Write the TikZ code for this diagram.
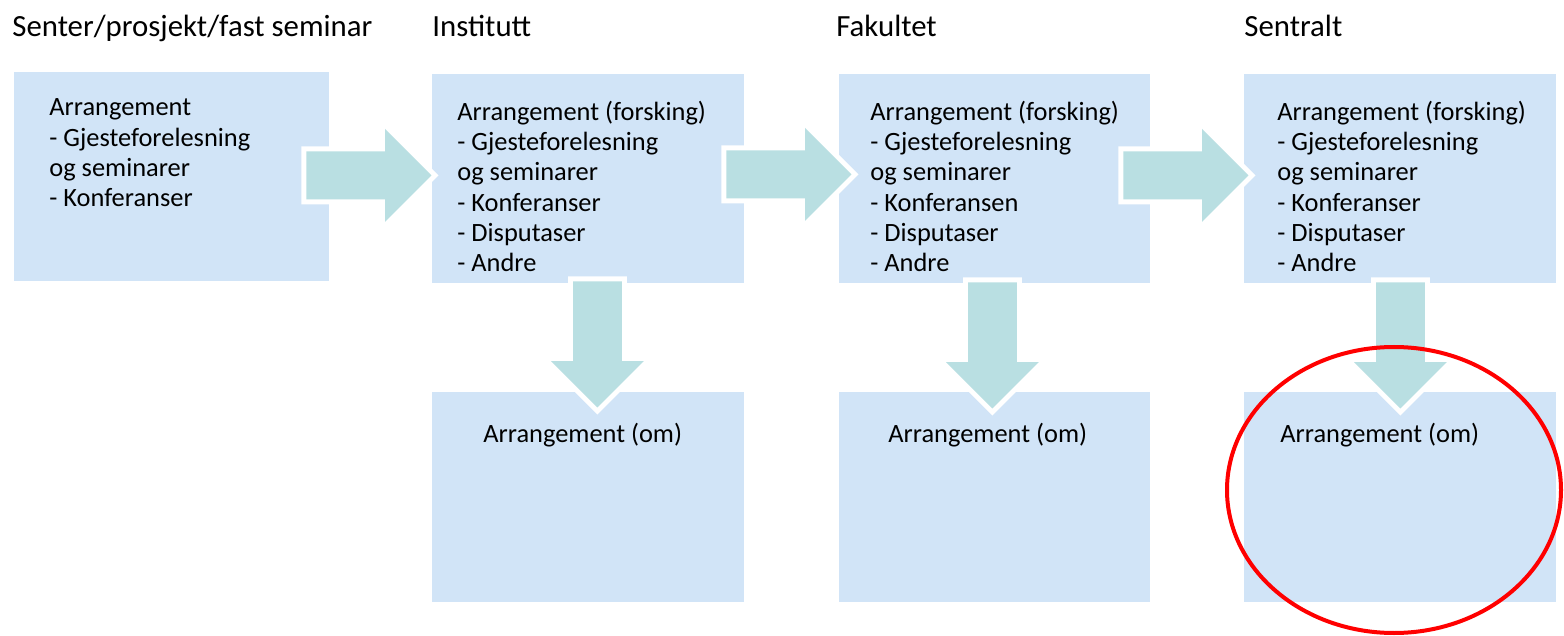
\documentclass[tikz,border=0pt]{standalone}
\usepackage{fontspec}
\setmainfont{Carlito}
\usetikzlibrary{shapes.arrows,shapes.geometric,calc}
\definecolor{boxblue}{RGB}{209,228,247}
\definecolor{arrowteal}{RGB}{185,223,226}

\begin{document}
\begin{tikzpicture}[x=0.5pt, y=-0.5pt]
	\tikzstyle{every node}=[inner sep=0pt, align=left]
	\tikzstyle{heading}=[anchor=base west, font=\fontsize{15.4}{18}\selectfont]
	\tikzstyle{box}=[fill=boxblue, anchor=north west, minimum width=156pt, minimum height=104.5pt]
	\tikzstyle{boxtext}=[anchor=base west, font=\fontsize{13.2}{15.2}\selectfont]
	\tikzstyle{rarrow}=[single arrow, fill=arrowteal, preaction={draw=white, line width=5pt},
		inner sep=11.75pt, minimum height=62.5pt, single arrow head extend=11.25pt, anchor=tip]
	\tikzstyle{darrow}=[rarrow, inner sep=12pt, minimum height=63pt, single arrow head extend=11pt, shape border rotate=270]
	\useasboundingbox (0,0) rectangle (1564,636);
	% headings
	\node[heading] (hs) at (12,37) {Senter/prosjekt/fast seminar};
	\node[heading] (hi) at (432,37) {Institutt};
	\node[heading] (hf) at (836,37) {Fakultet};
	\node[heading] (hc) at (1244,37) {Sentralt};
	% boxes
	\node[box, minimum height=104.5pt, minimum width=157.5pt] (s) at (14,72) {};
	\node[box] (i) at (432,74) {};
	\node[box, minimum width=155.5pt] (f) at (839,74) {};
	\node[box] (c) at (1244,74) {};
	\node[box, minimum height=105pt] (io) at (432,392) {};
	\node[box, minimum height=105pt, minimum width=155.5pt] (fo) at (839,392) {};
	\node[box, minimum height=105pt] (co) at (1244,392) {};
	% arrows
	\node[rarrow] (si) at ($(i.west)+(0,-3.5)$) {};
	\node[rarrow] (if) at ($(f.west)+(13,-4.5)$) {};
	\node[rarrow] (fc) at ($(c.west)+(5,-3.5)$) {};
	\node[darrow] (iio) at ($(io.north)+(9,16)$) {};
	\node[darrow] (ffo) at ($(fo.north)+(-2.5,17)$) {};
	\node[darrow] (cco) at ($(co.north)+(0,17)$) {};
	% texts (anchored at the last line)
	\node[boxtext] (st) at (49,207) {Arrangement\\- Gjesteforelesning\\og seminarer\\- Konferanser};
	\node[boxtext] (it) at (457,272) {Arrangement (forsking)\\- Gjesteforelesning\\og seminarer\\- Konferanser\\- Disputaser\\- Andre};
	\node[boxtext] (ft) at (870,272) {Arrangement (forsking)\\- Gjesteforelesning\\og seminarer\\- Konferansen\\- Disputaser\\- Andre};
	\node[boxtext] (ct) at (1277,272) {Arrangement (forsking)\\- Gjesteforelesning\\og seminarer\\- Konferanser\\- Disputaser\\- Andre};
	\node[boxtext] (iot) at (483,442) {Arrangement (om)};
	\node[boxtext] (fot) at (888,442) {Arrangement (om)};
	\node[boxtext] (cot) at (1280,442) {Arrangement (om)};
	% marking
	\node[ellipse, draw=red, line width=2pt, minimum width=167pt, minimum height=143pt] (ring) at (1394,490) {};
\end{tikzpicture}
\end{document}
